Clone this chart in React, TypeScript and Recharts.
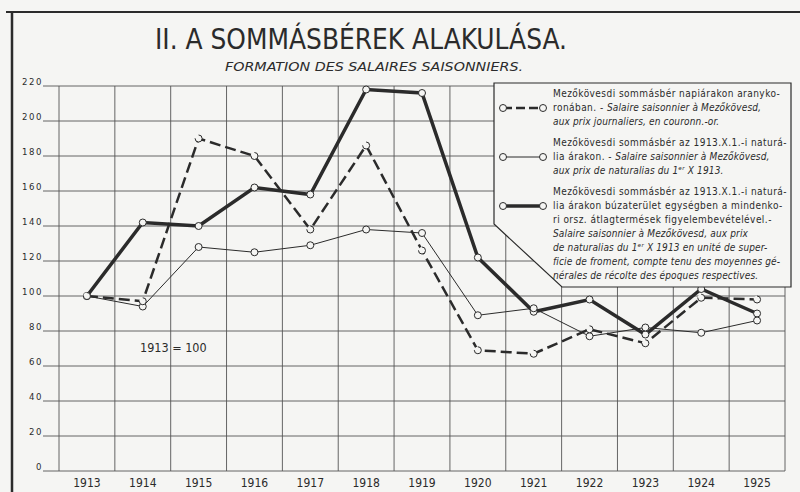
import { LineChart, Line, XAxis, YAxis, CartesianGrid, Legend } from 'recharts';

// Évek (categories)
const years = ['1913', '1914', '1915', '1916', '1917', '1918', '1919', '1920', '1921', '1922', '1923', '1924', '1925'];

// napiárakon aranykoronában (dashed)
const goldCrownWage = [100, 97, 190, 180, 138, 186, 126, 69, 67, 81, 73, 99, 98];
// 1913.X.1.-i naturália árakon (thin)
const naturaliaWage = [100, 94, 128, 125, 129, 138, 136, 89, 93, 77, 82, 79, 86];
// búzaterület egységben (heavy)
const wheatAreaWage = [100, 142, 140, 162, 158, 218, 216, 122, 91, 98, 78, 104, 90];

const yTicks = [0, 20, 40, 60, 80, 100, 120, 140, 160, 180, 200, 220];
// category boundaries for the vertical rules
const boundaryTicks = [...years.map((_, i) => i - 0.5), years.length - 0.5];

const data = years.map((year, i) => ({
  year,
  idx: i,
  gold: goldCrownWage[i],
  naturalia: naturaliaWage[i],
  wheat: wheatAreaWage[i],
}));

type LegendLine = { hu: string; fr: string };

const legendGold: LegendLine[] = [
  { hu: 'Mezőkövesdi sommásbér napiárakon aranyko-', fr: '' },
  { hu: 'ronában. - ', fr: 'Salaire saisonnier à Mezőkövesd,' },
  { hu: '', fr: 'aux prix  journaliers, en couronn.-or.' },
];
const legendNaturalia: LegendLine[] = [
  { hu: 'Mezőkövesdi sommásbér az 1913.X.1.-i naturá-', fr: '' },
  { hu: 'lia árakon. - ', fr: 'Salaire saisonnier à Mezőkövesd,' },
  { hu: '', fr: 'aux prix  de naturalias du  1ᵉʳ X 1913.' },
];
const legendWheat: LegendLine[] = [
  { hu: 'Mezőkövesdi sommásbér az 1913.X.1.-i naturá-', fr: '' },
  { hu: 'lia árakon búzaterület egységben a mindenko-', fr: '' },
  { hu: 'ri orsz. átlagtermések figyelembevételével.-', fr: '' },
  { hu: '', fr: 'Salaire saisonnier à Mezőkövesd, aux prix' },
  { hu: '', fr: 'de naturalias du 1ᵉʳ X 1913 en unité de super-' },
  { hu: '', fr: 'ficie de froment, compte tenu des moyennes gé-' },
  { hu: '', fr: 'nérales de récolte des époques respectives.' },
];

const INK = '#2b2b2b';
const GRID = '#555';
const PAPER = '#f5f5f3';
const FONT = "'DejaVu Sans Condensed', 'Liberation Sans Narrow', 'DejaVu Sans', sans-serif";

const YTick = ({ x, y, payload }: any) => (
  <text x={x} y={y - 1} textAnchor="end" fontSize={9.5} letterSpacing={1.6} fill={INK} fontFamily={FONT}>
    {payload.value}
  </text>
);

const XTick = ({ x, y, payload }: any) => (
  <text x={x} y={y + 16} textAnchor="middle" fontSize={12} fill={INK} fontFamily={FONT}>
    {payload.value}
  </text>
);

function Sample({ y, dash, width }: { y: number; dash?: string; width: number }) {
  return (
    <g>
      <line x1={10} x2={50} y1={y} y2={y} stroke={INK} strokeWidth={width} strokeDasharray={dash} />
      <circle cx={10} cy={y} r={3.5} fill={PAPER} stroke={INK} />
      <circle cx={50} cy={y} r={3.5} fill={PAPER} stroke={INK} />
    </g>
  );
}

function LegendText({ lines, top }: { lines: LegendLine[]; top: number }) {
  return (
    <text x={60} fontSize={10} fill={INK} fontFamily={FONT} letterSpacing={0.45}>
      {lines.map((l, i) => (
        <tspan key={i} x={60} y={top + i * 14}>
          {l.hu}
          {l.fr && (
            <tspan fontStyle="italic" letterSpacing={0.15}>
              {l.fr}
            </tspan>
          )}
        </tspan>
      ))}
    </text>
  );
}

function LegendBox() {
  return (
    <svg width={300} height={208} style={{ display: 'block' }}>
      <polygon points="1,1 298,1 298,205 69,205 1,142" fill={PAPER} stroke={INK} strokeWidth={1.2} />
      <Sample y={26} dash="9 4" width={2.5} />
      <LegendText lines={legendGold} top={15} />
      <Sample y={75} width={1} />
      <LegendText lines={legendNaturalia} top={64} />
      <Sample y={124} width={3.5} />
      <LegendText lines={legendWheat} top={113} />
    </svg>
  );
}

export default function App() {
  return (
    <div style={{ position: 'absolute', left: 0, top: 0, width: 800, height: 492, background: PAPER, overflow: 'hidden' }}>
      <svg width={800} height={492} style={{ position: 'absolute', left: 0, top: 0 }}>
        <line x1={6} x2={800} y1={12} y2={12} stroke={INK} strokeWidth={2} />
        <line x1={12} x2={12} y1={11} y2={492} stroke={INK} strokeWidth={2.5} />
        <text x={361} y={49} textAnchor="middle" fontSize={29} fill={INK} fontFamily={FONT} textLength={412} lengthAdjust="spacingAndGlyphs">
          II. A SOMMÁSBÉREK  ALAKULÁSA.
        </text>
        <text x={374} y={71} textAnchor="middle" fontSize={12.5} fontStyle="italic" fill={INK} fontFamily={FONT} textLength={298} lengthAdjust="spacingAndGlyphs">
          FORMATION DES SALAIRES SAISONNIERS.
        </text>
        <text x={140} y={352} fontSize={12.5} fill={INK} fontFamily={FONT}>
          1913 = 100
        </text>
      </svg>
      <div style={{ position: 'absolute', left: 0, top: 0 }}>
        <LineChart width={800} height={492} data={data} margin={{ top: 86, right: 15, bottom: 0, left: 0 }}>
          <CartesianGrid xAxisId="grid" stroke={GRID} strokeWidth={0.9} horizontalValues={yTicks} />
          <XAxis
            xAxisId="grid"
            dataKey="idx"
            type="number"
            domain={[-0.5, years.length - 0.5]}
            ticks={boundaryTicks}
            height={0}
            tickSize={21}
            tickFormatter={() => ''}
            axisLine={false}
            tickLine={{ stroke: GRID, strokeWidth: 0.9 }}
          />
          <XAxis
            xAxisId="cat"
            dataKey="year"
            scale="band"
            height={21}
            tickSize={0}
            tickMargin={0}
            axisLine={false}
            tickLine={false}
            tick={<XTick />}
            interval={0}
          />
          <YAxis
            domain={[0, 220]}
            ticks={yTicks}
            width={59}
            tickSize={16}
            tickMargin={0}
            axisLine={false}
            tickLine={{ stroke: GRID, strokeWidth: 0.9 }}
            tick={<YTick />}
          />
          <Legend
            layout="horizontal"
            verticalAlign="middle"
            align="center"
            wrapperStyle={{ position: 'absolute', left: 493, top: 82, width: 300, height: 208 }}
            content={() => <LegendBox />}
          />
          <Line
            xAxisId="grid"
            dataKey="wheat"
            stroke={INK}
            strokeWidth={3.5}
            dot={{ r: 3.5, fill: PAPER, stroke: INK, strokeWidth: 1 }}
            isAnimationActive={false}
          />
          <Line
            xAxisId="grid"
            dataKey="naturalia"
            stroke={INK}
            strokeWidth={1}
            dot={{ r: 3.5, fill: PAPER, stroke: INK, strokeWidth: 1 }}
            isAnimationActive={false}
          />
          <Line
            xAxisId="grid"
            dataKey="gold"
            stroke={INK}
            strokeWidth={2.5}
            strokeDasharray="11 5"
            dot={{ r: 3.5, fill: PAPER, stroke: INK, strokeWidth: 1 }}
            isAnimationActive={false}
          />
        </LineChart>
      </div>
    </div>
  );
}
